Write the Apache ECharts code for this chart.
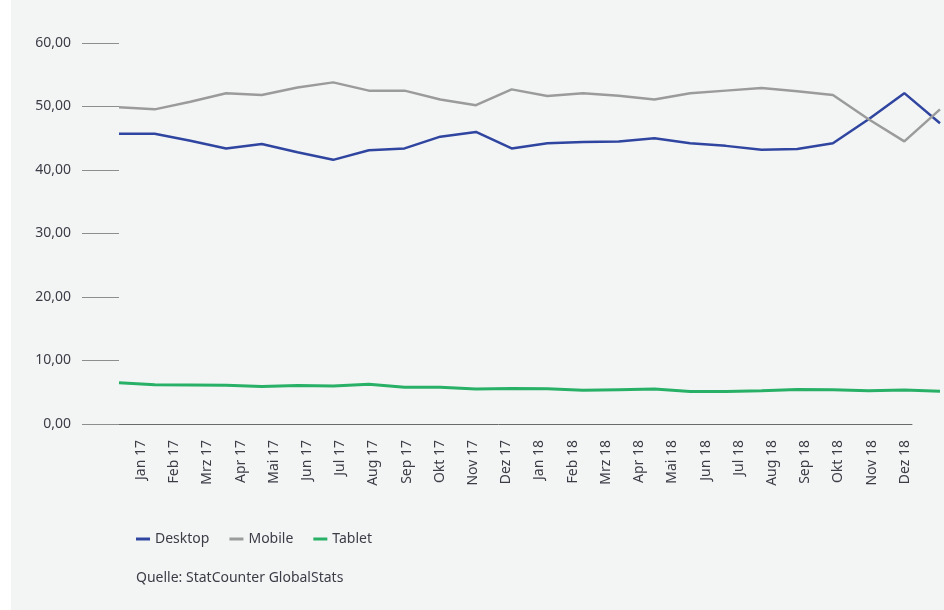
<!DOCTYPE html>
<html>
<head>
<meta charset="utf-8">
<script src="https://cdn.jsdelivr.net/npm/echarts@6/dist/echarts.min.js"></script>
<style>
html,body{margin:0;padding:0;background:#fff;}
#c{position:absolute;left:0;top:0;width:944px;height:610px;background:linear-gradient(to right,#ffffff 11px,#f3f5f5 11px);}
</style>
</head>
<body>
<div id="c"></div>
<script>
const categories = ['Jan 17','Feb 17','Mrz 17','Apr 17','Mai 17','Jun 17','Jul 17','Aug 17','Sep 17','Okt 17','Nov 17','Dez 17',
                    'Jan 18','Feb 18','Mrz 18','Apr 18','Mai 18','Jun 18','Jul 18','Aug 18','Sep 18','Okt 18','Nov 18','Dez 18'];
const desktop = [45.7,45.7,44.6,43.4,44.1,42.8,41.6,43.1,43.4,45.25,46.0,43.4,44.2,44.4,44.5,45.0,44.2,43.8,43.2,43.3,44.2,48.0,52.1,47.35];
const mobile  = [49.9,49.55,50.75,52.1,51.8,53.0,53.8,52.5,52.5,51.1,50.2,52.7,51.65,52.1,51.7,51.1,52.1,52.5,52.9,52.4,51.8,48.0,44.5,49.55];
const tablet  = [6.5,6.2,6.15,6.1,5.9,6.05,6.0,6.25,5.8,5.8,5.5,5.6,5.55,5.3,5.4,5.5,5.1,5.1,5.25,5.45,5.4,5.25,5.35,5.15];
const yTicks = {min:0, max:60, interval:10};
const sourceText = 'Quelle: StatCounter GlobalStats';

const FONT = 'Noto Sans';
const TXT = '#3c3c46';
const chart = echarts.init(document.getElementById('c'), null, {renderer:'canvas'});
const gTop = 43, gBottom = 186;
chart.setOption({
  backgroundColor: 'transparent',
  animation: false,
  textStyle: {fontFamily: FONT},
  title: {
    text: sourceText, left: 131, top: 566,
    textStyle: {fontFamily: FONT, fontSize: 14, fontWeight: 'normal', color: TXT}
  },
  legend: {
    left: 131, top: 527, icon: 'rect', itemWidth: 14, itemHeight: 3, itemGap: 20,
    textStyle: {fontFamily: FONT, fontSize: 14, color: TXT},
    data: ['Desktop','Mobile','Tablet']
  },
  grid: [
    {left: 119, right: 4, top: gTop, bottom: gBottom},
    {left: 124.4, right: 22.6, top: gTop, bottom: gBottom},
    {left: 85, right: 32, top: gTop, bottom: gBottom}
  ],
  xAxis: [
    {gridIndex: 0, type: 'category', boundaryGap: false, data: categories, show: false},
    {gridIndex: 1, type: 'category', boundaryGap: true, data: categories,
     axisLine: {show: false}, axisTick: {show: false},
     axisLabel: {rotate: 90, margin: 16, interval: 0, fontFamily: FONT, fontSize: 14, color: TXT}},
    {gridIndex: 2, type: 'category', data: categories,
     axisLine: {show: true, lineStyle: {color: '#6a6a6a', width: 1}},
     axisTick: {show: false}, axisLabel: {show: false}}
  ],
  yAxis: [
    {gridIndex: 0, type: 'value', min: yTicks.min, max: yTicks.max, interval: yTicks.interval,
     axisLine: {show: false}, splitLine: {show: false},
     axisTick: {show: true, length: 37, lineStyle: {color: '#8e8e8e', width: 1}},
     axisLabel: {margin: 48, fontFamily: FONT, fontSize: 14, color: TXT,
       formatter: v => v.toFixed(2).replace('.', ',')}},
    {gridIndex: 1, type: 'value', min: yTicks.min, max: yTicks.max, show: false},
    {gridIndex: 2, type: 'value', min: yTicks.min, max: yTicks.max, show: false}
  ],
  series: [
    {name: 'Desktop', type: 'line', xAxisIndex: 0, yAxisIndex: 0, data: desktop, symbol: 'none',
     itemStyle: {color: '#2f45a0'}, lineStyle: {color: '#2f45a0', width: 2.5}},
    {name: 'Mobile', type: 'line', xAxisIndex: 0, yAxisIndex: 0, data: mobile, symbol: 'none',
     itemStyle: {color: '#9b9b9b'}, lineStyle: {color: '#9b9b9b', width: 2.5}},
    {name: 'Tablet', type: 'line', xAxisIndex: 0, yAxisIndex: 0, data: tablet, symbol: 'none',
     itemStyle: {color: '#27b066'}, lineStyle: {color: '#27b066', width: 3}}
  ]
});
</script>
</body>
</html>
